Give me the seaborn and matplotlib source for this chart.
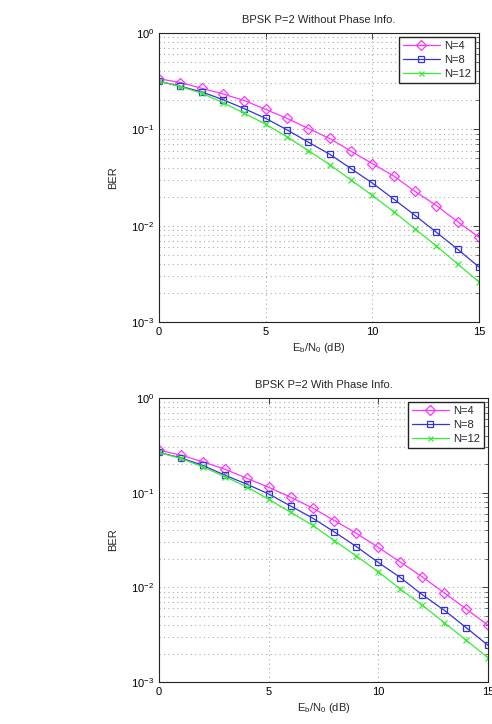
import numpy as np
import pandas as pd
import seaborn as sns
import matplotlib
matplotlib.use("Agg")
import matplotlib.pyplot as plt
from matplotlib.ticker import LogLocator, FixedLocator, NullFormatter

ebn0 = list(range(16))

# without phase info
nophase_n4 = [0.335, 0.306, 0.267, 0.233, 0.199, 0.161, 0.130, 0.102, 0.0804, 0.0593,
              0.0441, 0.0328, 0.0227, 0.0162, 0.0110, 0.00758]
nophase_n8 = [0.316, 0.280, 0.245, 0.203, 0.164, 0.130, 0.0989, 0.0736, 0.0552, 0.0391,
              0.0277, 0.0189, 0.0128, 0.00855, 0.00569, 0.00372]
nophase_n12 = [0.316, 0.278, 0.237, 0.189, 0.147, 0.113, 0.0836, 0.0603, 0.0430, 0.0298,
               0.0206, 0.0140, 0.00927, 0.00616, 0.00400, 0.00261]

# with phase info
phase_n4 = [0.281, 0.249, 0.212, 0.177, 0.142, 0.114, 0.0894, 0.0689, 0.0507, 0.0372,
            0.0264, 0.0185, 0.0129, 0.00875, 0.00593, 0.00398]
phase_n8 = [0.266, 0.233, 0.194, 0.153, 0.123, 0.0969, 0.0723, 0.0539, 0.0384, 0.0269,
            0.0183, 0.0127, 0.00837, 0.00574, 0.00376, 0.00244]
phase_n12 = [0.266, 0.230, 0.187, 0.148, 0.115, 0.0852, 0.0620, 0.0452, 0.0311, 0.0214,
             0.0146, 0.00958, 0.00648, 0.00425, 0.00276, 0.00181]

labels = ["N=4", "N=8", "N=12"]
colors = ["#ff33ff", "#3333dd", "#33ee33"]
markers = ["D", "s", "x"]
msizes = [5.5, 5, 4]

sns.set_style("white")
plt.rcParams["font.family"] = ["Liberation Sans", "DejaVu Sans"]
plt.rcParams["mathtext.default"] = "regular"
plt.rcParams["font.size"] = 8

fig = plt.figure(figsize=(4.92, 7.24), dpi=100)
ax1 = fig.add_axes([0.3232, 0.5552, 0.6504, 0.3992])
ax2 = fig.add_axes([0.3232, 0.058, 0.6687, 0.3923])


def draw(ax, series, title):
    for ys, lab, c, m, ms in zip(series, labels, colors, markers, msizes):
        df = pd.DataFrame({"x": ebn0, "y": ys})
        sns.lineplot(data=df, x="x", y="y", ax=ax, color=c, marker=m, markersize=ms,
                     markerfacecolor="none", markeredgecolor=c, markeredgewidth=0.9,
                     linewidth=0.9, label=lab)
    ax.set_yscale("log")
    ax.set_xlim(0, 15)
    ax.set_ylim(1e-3, 1)
    ax.xaxis.set_major_locator(FixedLocator([0, 5, 10, 15]))
    ax.yaxis.set_major_locator(LogLocator(base=10, numticks=10))
    ax.yaxis.set_minor_locator(LogLocator(base=10, subs=np.arange(2, 10), numticks=10))
    ax.yaxis.set_minor_formatter(NullFormatter())
    ax.grid(True, which="major", linestyle=(0, (1, 3)), color="#aaaaaa", linewidth=0.8)
    ax.grid(True, which="minor", axis="y", linestyle=(0, (1, 3)), color="#aaaaaa", linewidth=0.8)
    ax.tick_params(which="both", direction="in", top=True, right=True, labelsize=8,
                   colors="#222222", labelcolor="black")
    ax.tick_params(which="major", length=4, width=0.6)
    ax.tick_params(which="minor", length=2, width=0.5)
    for sp in ax.spines.values():
        sp.set_color("#222222")
        sp.set_linewidth(0.8)
    ax.set_title(title, fontsize=8, pad=7)
    ax.set_xlabel(r"E$_b$/N$_0$ (dB)", fontsize=8, labelpad=3)
    ax.set_ylabel("BER", fontsize=8, labelpad=9)
    leg = ax.legend(loc="upper right", fontsize=8, fancybox=False, framealpha=1,
                    edgecolor="#222222", borderaxespad=0.4, handlelength=3.4,
                    borderpad=0.35, labelspacing=0.35, handletextpad=0.3,
                    markerscale=0.9)
    leg.get_frame().set_linewidth(1.0)


draw(ax1, [nophase_n4, nophase_n8, nophase_n12], "BPSK P=2 Without Phase Info.")
draw(ax2, [phase_n4, phase_n8, phase_n12], "BPSK P=2 With Phase Info.")

fig.savefig("out.png", dpi=100)
